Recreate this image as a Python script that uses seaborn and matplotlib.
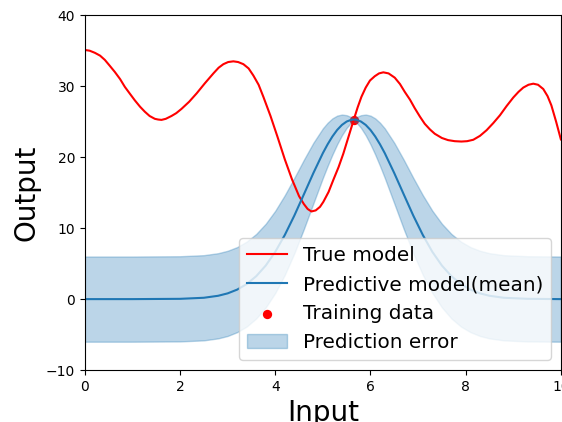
import numpy as np
import matplotlib
matplotlib.use("Agg")
import matplotlib.pyplot as plt
import seaborn as sns

# true model
true_x = [0.0, 0.1, 0.21, 0.32, 0.42, 0.52, 0.63, 0.74, 0.84, 0.95, 1.05, 1.16, 1.26, 1.36,
          1.47, 1.54, 1.61, 1.7, 1.82, 1.92, 2.03, 2.19, 2.35, 2.52, 2.7, 2.81, 2.91, 3.01,
          3.12, 3.22, 3.33, 3.44, 3.54, 3.65, 3.75, 3.9, 4.05, 4.2, 4.35, 4.5, 4.6, 4.68,
          4.76, 4.85, 4.94, 5.01, 5.12, 5.22, 5.33, 5.43, 5.54, 5.65, 5.73, 5.81, 5.9,
          5.99, 6.09, 6.18, 6.27, 6.38, 6.51, 6.62, 6.72, 6.83, 6.93, 7.04, 7.14, 7.25,
          7.35, 7.5, 7.63, 7.77, 7.91, 8.03, 8.16, 8.3, 8.44, 8.58, 8.72, 8.86, 9.0, 9.11,
          9.21, 9.32, 9.42, 9.52, 9.63, 9.72, 9.8, 9.9, 10.0]
true_y = [35.1, 35.0, 34.7, 34.3, 33.7, 32.9, 32.0, 31.0, 29.9, 28.9, 28.0, 27.1, 26.4, 25.8,
          25.4, 25.3, 25.25, 25.4, 25.8, 26.2, 26.8, 27.8, 29.0, 30.4, 31.8, 32.6, 33.1, 33.4,
          33.5, 33.4, 33.1, 32.5, 31.5, 30.2, 28.5, 25.8, 22.8, 19.7, 16.9, 14.5, 13.4, 12.7,
          12.35, 12.5, 13.0, 13.7, 15.1, 16.8, 18.6, 20.5, 22.9, 25.3, 27.0, 28.5, 29.8,
          30.8, 31.4, 31.8, 31.95, 31.8, 31.2, 30.3, 29.2, 28.1, 26.9, 25.7, 24.7, 23.9,
          23.3, 22.7, 22.4, 22.25, 22.2, 22.25, 22.45, 23.0, 23.8, 24.8, 25.9, 27.2, 28.4,
          29.2, 29.8, 30.2, 30.35, 30.2, 29.6, 28.6, 27.3, 25.0, 22.5]

# predictive model (mean and error half-width)
pred_x = [0.0, 1.0, 2.0, 2.5, 2.8, 3.0, 3.2, 3.4, 3.6, 3.8, 4.0, 4.2, 4.4, 4.6, 4.8, 5.0,
          5.1, 5.2, 5.3, 5.4, 5.5, 5.6, 5.65, 5.7, 5.8, 5.9, 6.0, 6.1, 6.2, 6.3, 6.5, 6.7,
          6.9, 7.1, 7.3, 7.5, 7.7, 7.9, 8.1, 8.3, 8.5, 8.8, 9.3, 10.0]
pred_mean = [0.0, 0.0, 0.04, 0.19, 0.47, 0.81, 1.34, 2.12, 3.23, 4.73, 6.66, 9.03, 11.76,
             14.74, 17.75, 20.57, 21.81, 22.91, 23.83, 24.54, 25.02, 25.27, 25.3, 25.27,
             25.02, 24.54, 23.83, 22.91, 21.81, 20.57, 17.75, 14.74, 11.76, 9.03, 6.66,
             4.73, 3.23, 2.12, 1.34, 0.81, 0.47, 0.19, 0.04, 0.0]
pred_err = [6.0, 6.0, 6.0, 6.0, 6.0, 6.0, 5.99, 5.98, 5.95, 5.89, 5.79, 5.61, 5.31, 4.88,
            4.27, 3.49, 3.04, 2.55, 2.02, 1.46, 0.89, 0.35, 0.3, 0.35, 0.89, 1.46, 2.02,
            2.55, 3.04, 3.49, 4.27, 4.88, 5.31, 5.61, 5.79, 5.89, 5.95, 5.98, 5.99, 6.0,
            6.0, 6.0, 6.0, 6.0]

# training data
train_x = [5.65]
train_y = [25.3]

fig = plt.figure(figsize=(5.62, 4.22), dpi=100)
ax = fig.add_axes([0.151, 0.123, 0.847, 0.841])

sns.lineplot(x=true_x, y=true_y, color="red", linewidth=1.5, label="True model", ax=ax)
sns.lineplot(x=pred_x, y=pred_mean, color="tab:blue", linewidth=1.5,
             label="Predictive model(mean)", ax=ax)
sns.scatterplot(x=train_x, y=train_y, color="red", s=45, linewidth=0,
                label="Training data", ax=ax)
lo = np.array(pred_mean) - np.array(pred_err)
hi = np.array(pred_mean) + np.array(pred_err)
ax.fill_between(pred_x, lo, hi, color="tab:blue", alpha=0.3, label="Prediction error")

ax.set_xlim(0, 10)
ax.set_ylim(-10, 40)
ax.set_xlabel("Input", fontsize=20)
ax.set_ylabel("Output", fontsize=20)
ax.legend(loc="lower right", fontsize=14.4)

fig.savefig("out.png", dpi=100)
